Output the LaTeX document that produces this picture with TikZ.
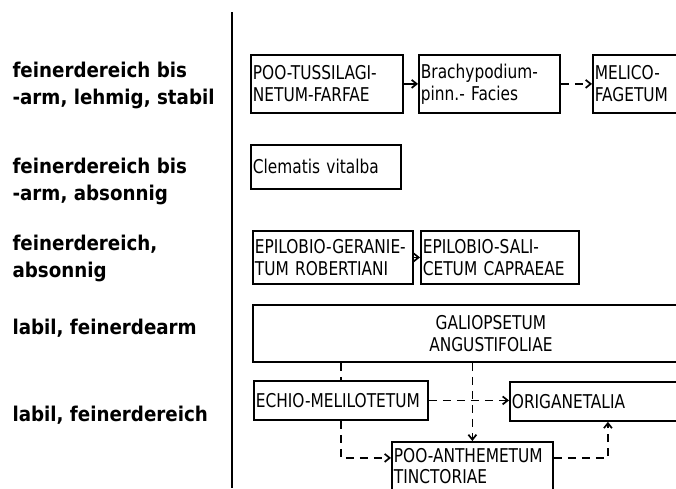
\documentclass[tikz,border=0pt]{standalone}
\usepackage{fontspec}
\setmainfont{DejaVu Sans Condensed}
\newfontfamily\boxfont{DejaVu Sans Condensed}[FakeStretch=0.9]
\usetikzlibrary{arrows.meta}

\tikzset{
  vbox/.style={draw, line width=1.8pt, anchor=north west, align=left,
    inner xsep=2pt, inner ysep=0pt, font=\boxfont\fontsize{19}{22}\selectfont},
  site/.style={anchor=west, align=left, font=\bfseries\fontsize{20.3}{27}\selectfont},
  flow/.style={-{Straight Barb[length=5pt,width=8pt]}, line width=1.7pt},
  maybe/.style={flow, dash pattern=on 8pt off 6pt},
  hint/.style={line width=1.7pt, dash pattern=on 8pt off 6pt},
}

\begin{document}
\begin{tikzpicture}[x=1pt, y=-1pt]
  \useasboundingbox (0,0) rectangle (676,488);
  % divider
  \draw[line width=1.8pt] (232,12) -- (232,488);

  % site conditions
  \node[site] (stabil) at (9,85) {feinerdereich bis\\-arm, lehmig, stabil};
  \node[site] (absonnig) at (9,181) {feinerdereich bis\\-arm, absonnig};
  \node[site] (feinabs) at (9,258) {feinerdereich,\\absonnig};
  \node[site] (feinarm) at (9,328) {labil, feinerdearm};
  \node[site] (feinreich) at (9,415) {labil, feinerdereich};

  % communities
  \node[vbox, text width=148pt, minimum height=58pt] (poot) at (250,54) {POO-TUSSILAGI-\\NETUM-FARFAE};
  \node[vbox, text width=137pt, minimum height=58pt] (brachy) at (418,54) {Brachypodium-\\pinn.- Facies};
  \node[vbox, text width=100pt, minimum height=58pt] (melico) at (592,54) {MELICO-\\FAGETUM};
  \node[vbox, text width=146pt, minimum height=44pt] (clem) at (250,144) {Clematis vitalba};
  \node[vbox, text width=156pt, minimum height=53pt] (epg) at (252,230) {EPILOBIO-GERANIE-\\TUM ROBERTIANI};
  \node[vbox, text width=154pt, minimum height=53pt] (eps) at (420,230) {EPILOBIO-SALI-\\CETUM CAPRAEAE};
  \node[vbox, align=center, text width=472pt, minimum height=57pt] (galio) at (252,304) {GALIOPSETUM\\ANGUSTIFOLIAE};
  \node[vbox, text width=170pt, minimum height=39pt] (echio) at (253,380) {ECHIO-MELILOTETUM};
  \node[vbox, text width=192pt, minimum height=39pt] (orig) at (509,381) {ORIGANETALIA};
  \node[vbox, text width=157pt, minimum height=48pt,
    font=\boxfont\fontsize{19}{21}\selectfont] (pooa) at (391,441) {POO-ANTHEMETUM\\TINCTORIAE};

  % succession
  \draw[flow] (poot) -- (brachy);
  \draw[maybe] (brachy) -- (melico);
  \draw[flow] (epg) -- (eps);
  \draw[hint] (galio.south -| echio.north) -- (echio.north);
  \draw[maybe] (galio.south -| pooa.north) -- (pooa.north);
  \draw[maybe] (echio.east) -- (echio.east -| orig.west);
  \draw[maybe] (echio.south) |- ([yshift=8pt]pooa.west);
  \draw[maybe] ([yshift=8pt]pooa.east) -| (orig.south);
\end{tikzpicture}
\end{document}
